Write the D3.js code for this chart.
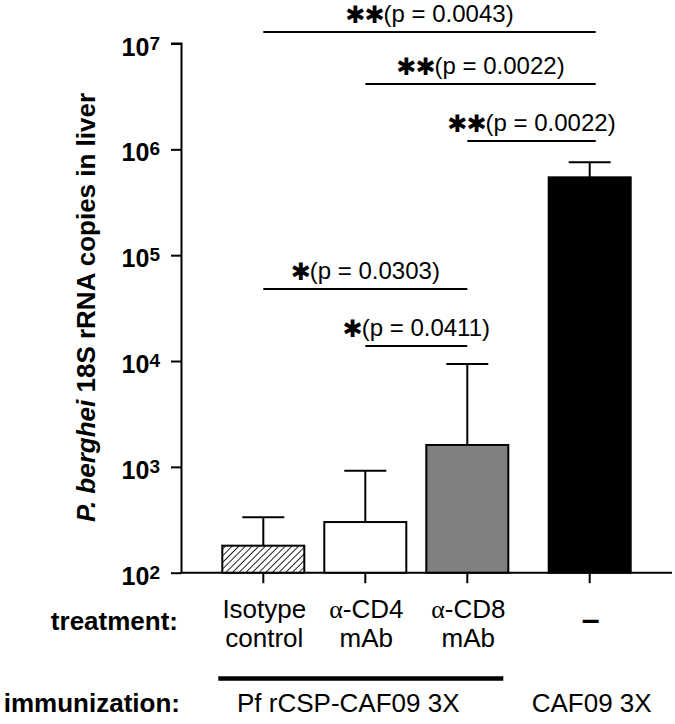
<!DOCTYPE html>
<html>
<head>
<meta charset="utf-8">
<script src="https://cdn.jsdelivr.net/npm/d3@7"></script>
<style>
  html, body { margin: 0; padding: 0; background: #fff; }
  svg { display: block; }
</style>
</head>
<body>
<div id="chart"></div>
<script>
// ---------------- DATA ----------------
const treatmentLine1 = ["Isotype", "α-CD4", "α-CD8", "–"];
const treatmentLine2 = ["control", "mAb", "mAb", ""];
const meanCopies  = [180, 301, 1610, 544000];
const upperCopies = [334, 920, 9370, 754000];
const barStyles   = ["hatch", "white", "gray", "black"];
const tickExponents = [2, 3, 4, 5, 6, 7];
const compFrom  = [0, 1, 2, 0, 1];
const compTo    = [3, 3, 3, 2, 2];
const compStars = ["**", "**", "**", "*", "*"];
const compP     = ["0.0043", "0.0022", "0.0022", "0.0303", "0.0411"];
const immunLabels = ["Pf rCSP-CAF09 3X", "CAF09 3X"];
const immunFrom   = [0, 3];
const immunTo     = [2, 3];

// ---------------- LAYOUT ----------------
const W = 675, H = 724;
const plotTop = 43.5, plotBottom = 572.7, axisX = 181.5, axisRight = 672;
const barW = 82;
const bracketY = [32, 84, 141, 289, 346];

const svg = d3.select("#chart").append("svg").attr("width", W).attr("height", H);

const defs = svg.append("defs");
const hs = 4.7;
const pat = defs.append("pattern").attr("id", "hatch").attr("patternUnits", "userSpaceOnUse")
  .attr("width", hs).attr("height", hs).attr("patternTransform", "rotate(45)");
pat.append("rect").attr("width", hs).attr("height", hs).attr("fill", "#fff");
pat.append("line").attr("x1", 0).attr("y1", 0).attr("x2", 0).attr("y2", hs)
  .attr("stroke", "#000").attr("stroke-width", 1.7);

const fillFor = { hatch: "url(#hatch)", white: "#fff", gray: "#808080", black: "#000" };

const y = d3.scaleLog().domain([1e2, 1e7]).range([plotBottom, plotTop]);
// slot positions: bar 4 sits after a small gap
const slots = meanCopies.map((d, i) => i + (i >= 3 ? 0.2 : 0));
const xs = d3.scaleLinear().domain([0, 1]).range([263.3, 365.3]);
const xc = i => xs(slots[i]);

const FONT = "'Liberation Sans', Arial, Helvetica, sans-serif";

// Y axis
const yAxis = d3.axisLeft(y).tickValues(tickExponents.map(e => Math.pow(10, e)))
  .tickSize(10.5).tickFormat("");
const gy = svg.append("g").attr("transform", `translate(${axisX},0)`).call(yAxis);
gy.select(".domain").attr("stroke", "#000").attr("stroke-width", 2).attr("d", `M-10.5,${plotTop}H0V${plotBottom}`);
gy.selectAll(".tick line").attr("stroke", "#000").attr("stroke-width", 2);

// tick labels 10^n
const tl = svg.append("g").selectAll("text").data(tickExponents).join("text")
  .attr("x", 160).attr("y", e => y(Math.pow(10, e)) + 12)
  .attr("text-anchor", "end")
  .attr("font-family", FONT).attr("font-weight", "bold").attr("font-size", 25);
tl.append("tspan").text("10");
tl.append("tspan").attr("font-size", 19).attr("dy", -6).text(e => e);

// Axis title
const title = svg.append("text")
  .attr("transform", `translate(95,307.5) rotate(-90)`)
  .attr("text-anchor", "middle")
  .attr("font-family", FONT).attr("font-weight", "bold").attr("font-size", 26);
title.append("tspan").attr("font-style", "italic").text("P. berghei");
title.append("tspan").text(" 18S rRNA copies in liver");

// X baseline
svg.append("line").attr("x1", axisX - 1).attr("x2", axisRight)
  .attr("y1", plotBottom).attr("y2", plotBottom).attr("stroke", "#000").attr("stroke-width", 2);
// ticks under bars
svg.append("g").selectAll("line").data(meanCopies).join("line")
  .attr("x1", (d, i) => xc(i)).attr("x2", (d, i) => xc(i))
  .attr("y1", plotBottom).attr("y2", plotBottom + 10.5)
  .attr("stroke", "#000").attr("stroke-width", 2);

// Error bars (upper only)
const eb = svg.append("g");
eb.selectAll("line.v").data(meanCopies).join("line").attr("class", "v")
  .attr("x1", (d, i) => xc(i)).attr("x2", (d, i) => xc(i))
  .attr("y1", d => y(d)).attr("y2", (d, i) => y(upperCopies[i]))
  .attr("stroke", "#000").attr("stroke-width", 2);
eb.selectAll("line.c").data(upperCopies).join("line").attr("class", "c")
  .attr("x1", (d, i) => xc(i) - 21).attr("x2", (d, i) => xc(i) + 21)
  .attr("y1", d => y(d)).attr("y2", d => y(d))
  .attr("stroke", "#000").attr("stroke-width", 2);

// Bars
svg.append("g").selectAll("rect").data(meanCopies).join("rect")
  .attr("x", (d, i) => xc(i) - barW / 2).attr("width", barW)
  .attr("y", d => y(d)).attr("height", d => plotBottom - y(d))
  .attr("fill", (d, i) => fillFor[barStyles[i]])
  .attr("stroke", "#000").attr("stroke-width", 2);

// Significance brackets
const comps = compFrom.map((f, i) => ({ f, t: compTo[i], s: compStars[i], p: compP[i], yy: bracketY[i] }));
const cg = svg.append("g");
cg.selectAll("line").data(comps).join("line")
  .attr("x1", d => xc(d.f)).attr("x2", d => xc(d.t) + (d.t === 3 ? 6 : 0))
  .attr("y1", d => d.yy).attr("y2", d => d.yy)
  .attr("stroke", "#000").attr("stroke-width", 2);
const ct = cg.selectAll("text").data(comps).join("text")
  .attr("x", d => (xc(d.f) + xc(d.t) + (d.t === 3 ? 6 : 0)) / 2)
  .attr("y", d => d.yy - 10)
  .attr("text-anchor", "middle")
  .attr("font-family", FONT).attr("font-size", 24);
ct.append("tspan").attr("font-family", "'DejaVu Sans', sans-serif").attr("font-weight", "bold")
  .attr("font-size", 24).attr("dy", 1).attr("letter-spacing", -1).text(d => d.s.replace(/\*/g, "✱"));
ct.append("tspan").attr("dy", -1).text(d => `(p = ${d.p})`);

// Treatment labels
svg.append("text").attr("x", 178).attr("y", 630).attr("text-anchor", "end")
  .attr("font-family", FONT).attr("font-weight", "bold").attr("font-size", 26).text("treatment:");
const tg = svg.append("g").attr("font-family", FONT).attr("font-size", 26).attr("text-anchor", "middle");
const t1 = tg.selectAll("text.l1").data(treatmentLine1).join("text").attr("class", "l1")
  .attr("x", (d, i) => xc(i) + 1).attr("y", (d, i) => i === 3 ? 630 : 618);
t1.each(function (d, i) {
  const el = d3.select(this);
  if (d.startsWith("α")) {
    el.append("tspan").attr("font-family", "'Liberation Serif', serif").text("α");
    el.append("tspan").text(d.slice(1));
  } else if (i === 3) {
    el.attr("font-weight", "bold").attr("font-size", 32).text(d);
  } else {
    el.text(d);
  }
});
tg.selectAll("text.l2").data(treatmentLine2).join("text").attr("class", "l2")
  .attr("x", (d, i) => xc(i) + 1).attr("y", 647).text(d => d);

// Immunization
svg.append("text").attr("x", 180).attr("y", 712).attr("text-anchor", "end")
  .attr("font-family", FONT).attr("font-weight", "bold").attr("font-size", 26).text("immunization:");
const ig = svg.append("g");
immunLabels.forEach((lab, k) => {
  const a = xc(immunFrom[k]), b = xc(immunTo[k]);
  if (immunTo[k] > immunFrom[k]) {
    ig.append("line").attr("x1", a - 45).attr("x2", b + 36).attr("y1", 678.5).attr("y2", 678.5)
      .attr("stroke", "#000").attr("stroke-width", 4.5);
  }
  ig.append("text").attr("x", immunTo[k] > immunFrom[k] ? (a + b) / 2 - 17 : a + 2).attr("y", 712)
    .attr("text-anchor", "middle").attr("font-family", FONT).attr("font-size", 26).text(lab);
});
</script>
</body>
</html>
